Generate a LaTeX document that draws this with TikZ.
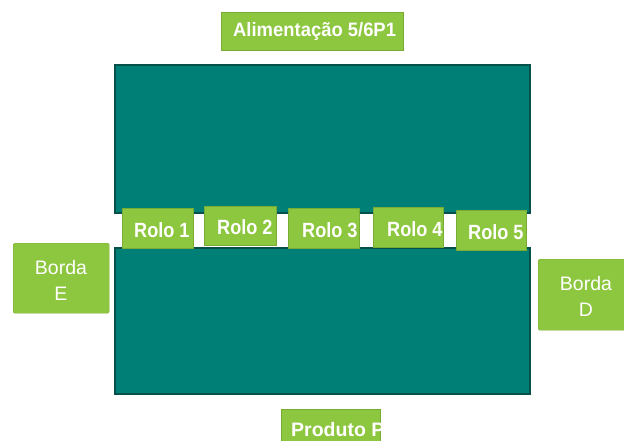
\documentclass[tikz,border=0pt]{standalone}
\usepackage{fontspec}
\setmainfont{Liberation Sans}
\definecolor{plateFill}{RGB}{0,127,118}
\definecolor{plateEdge}{RGB}{5,80,72}
\definecolor{tagGreen}{RGB}{141,198,63}
\definecolor{tagEdge}{RGB}{120,172,52}
\begin{document}
\begin{tikzpicture}[x=1pt,y=-1pt,
  plate/.style={draw=plateEdge, line width=1.6pt, fill=plateFill, anchor=north west, inner sep=0pt},
  tag/.style={fill=tagGreen, draw=tagEdge, line width=0.4pt, anchor=north west, inner sep=0pt},
  side/.style={tag, rounded corners=1.5pt},
  boldtxt/.style={text=white, font=\bfseries\fontsize{18.4}{20}\selectfont, anchor=base west, inner sep=0pt},
  rolltxt/.style={boldtxt, font=\bfseries\fontsize{20.6}{22}\selectfont, xscale=0.88},
  thintxt/.style={text=white, font=\fontsize{19.5}{26}\selectfont, align=center, inner sep=0pt}]
\useasboundingbox (0,0) rectangle (624,441);
\fill[white] (0,0) rectangle (624,441);

% feed label
\node[tag, minimum width=182pt, minimum height=38pt] (feed) at (221,12) {};
\node[boldtxt, font=\bfseries\fontsize{19.4}{21}\selectfont, xscale=0.95] (feedtxt) at (233,37) {Alimentação 5/6P1};

% the two plates
\node[plate, minimum width=415pt, minimum height=148pt] (upper) at (114,64) {};
\node[plate, minimum width=415pt, minimum height=146pt] (lower) at (114,247) {};

% rollers between the plates
\node[tag, minimum width=71pt, minimum height=40pt] (r1) at (122,208) {};
\node[tag, minimum width=72pt, minimum height=39pt] (r2) at (204,206) {};
\node[tag, minimum width=71pt, minimum height=40pt] (r3) at (288,208) {};
\node[tag, minimum width=70pt, minimum height=40pt] (r4) at (373,207) {};
\node[tag, minimum width=70pt, minimum height=40pt] (r5) at (456,210) {};
\node[rolltxt] (r1txt) at (134,237) {Rolo 1};
\node[rolltxt] (r2txt) at (217,234) {Rolo 2};
\node[rolltxt] (r3txt) at (302,237) {Rolo 3};
\node[rolltxt] (r4txt) at (387,236) {Rolo 4};
\begin{scope}
  \clip (r5.north west) rectangle (r5.south east);
  \node[rolltxt] (r5txt) at (468,239) {Rolo 5};
\end{scope}

% edge labels
\node[side, minimum width=96pt, minimum height=70pt] (bordaE) at (13,243) {};
\node[thintxt] (bordaEtxt) at (61,280) {Borda\\E};
\node[side, minimum width=90pt, minimum height=71pt] (bordaD) at (538,259) {};
\node[thintxt] (bordaDtxt) at (586,296) {Borda\\D};

% product label
\node[tag, minimum width=99pt, minimum height=40pt] (prod) at (281,409) {};
\begin{scope}
  \clip (prod.north west) rectangle (prod.south east);
  \node[boldtxt, font=\bfseries\fontsize{19.5}{22}\selectfont] (prodtxt) at (291,436) {Produto P};
\end{scope}
\end{tikzpicture}
\end{document}
